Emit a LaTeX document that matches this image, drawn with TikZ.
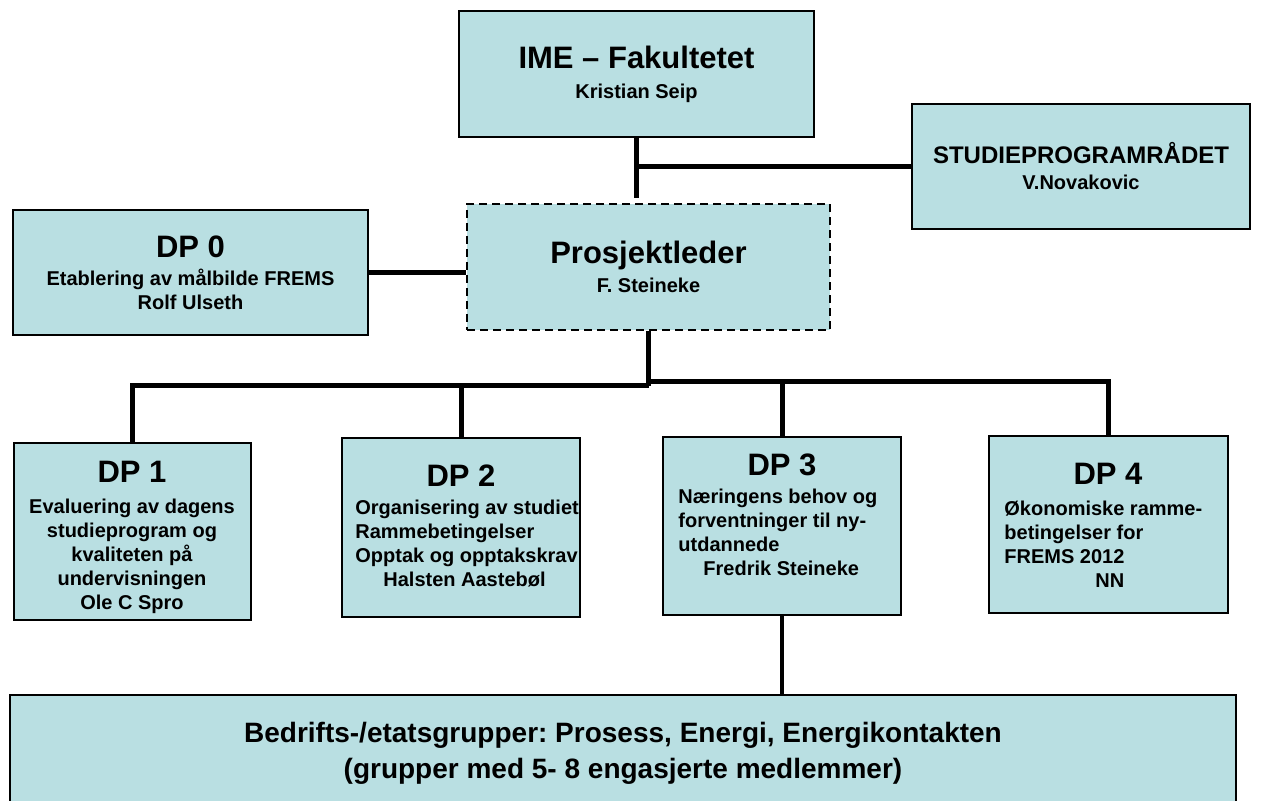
\documentclass[tikz,border=0pt]{standalone}
\usepackage{fontspec}
\setmainfont{Liberation Sans}
\frenchspacing

\definecolor{boxblue}{RGB}{185,223,226}

\newcommand{\headfont}{\fontsize{15.5}{18}\selectfont}

\tikzset{
	unit/.style = {draw, line width = 1pt, fill = boxblue, inner sep = 0pt, align = center,
		font = \fontsize{10}{12}\selectfont\bfseries},
	leader/.style = {unit, dash pattern = on 4pt off 2.5pt},
	head/.style = {inner sep = 0pt, font = \headfont\bfseries},
	body/.style = {inner sep = 0pt, font = \fontsize{10}{12}\selectfont\bfseries},
	link/.style = {line width = 2.5pt}
}

\begin{document}
\begin{tikzpicture}[x = 0.5pt, y = -0.5pt]

	% Frame

	\useasboundingbox (0, 0) rectangle (1267, 801);

	% Top level

	\node [unit, minimum width = 177.5pt, minimum height = 63pt] (ime) at (636.5, 74)
		{{\headfont IME – Fakultetet}\\[3pt] Kristian Seip};
	\node [unit, minimum width = 169pt, minimum height = 62.5pt] (studie) at (1081, 166.5)
		{{\fontsize{12}{14}\selectfont STUDIEPROGRAMRÅDET}\\[1pt] V.Novakovic};
	\node [leader, minimum width = 181.5pt, minimum height = 63pt] (lead) at (648.5, 267)
		{{\headfont Prosjektleder}\\[2.5pt] F. Steineke};
	\node [unit, minimum width = 177.5pt, minimum height = 62.5pt] (dp0) at (190.5, 272.5)
		{{\headfont DP 0}\\[2pt] Etablering av målbilde FREMS\\ Rolf Ulseth};

	% Delprosjekter

	\node [unit, minimum width = 118.5pt, minimum height = 88.5pt] (dp1) at (132.5, 531.5) {};
	\node [unit, minimum width = 119pt, minimum height = 89.5pt] (dp2) at (461, 527.5) {};
	\node [unit, minimum width = 119pt, minimum height = 89pt] (dp3) at (782, 526) {};
	\node [unit, minimum width = 119.5pt, minimum height = 88.5pt] (dp4) at (1108.5, 524.5) {};

	\node [head] (dp1t) at (132, 472) {DP 1};
	\node [body, align = center] (dp1b) at (132, 556)
		{Evaluering av dagens\\ studieprogram og\\ kvaliteten på\\ undervisningen\\ Ole C Spro};

	\node [head] (dp2t) at (461, 476) {DP 2};
	\node [body, align = left, anchor = west] (dp2b) at (355, 544)
		{Organisering av studiet\\ Rammebetingelser\\ Opptak og opptakskrav\\ \hspace*{14pt}Halsten Aastebøl};

	\node [head] (dp3t) at (782, 465) {DP 3};
	\node [body, align = left, anchor = west] (dp3b) at (678, 532)
		{Næringens behov og\\ forventninger til ny-\\ utdannede\\ \hspace*{12.5pt}Fredrik Steineke};

	\node [head] (dp4t) at (1108, 474) {DP 4};
	\node [body, align = left, anchor = west] (dp4b) at (1004, 544)
		{Økonomiske ramme-\\ betingelser for\\ FREMS 2012\\ \hspace*{45.5pt}NN};

	% Bedrifter

	\node [unit, minimum width = 613pt, minimum height = 58pt,
		font = \fontsize{14}{18}\selectfont\bfseries] (firms) at (623, 753)
		{Bedrifts-/etatsgrupper: Prosess, Energi, Energikontakten\\ (grupper med 5- 8 engasjerte medlemmer)};

	% Lines

	\draw [link] (ime.south) -- ++(0, 60);
	\draw [link] (ime.south |- studie.west) -- (studie.west);
	\draw [link] (dp0.east) -- (dp0.east -| lead.west);

	\draw [link] (lead.south) -- ++(0, 55) coordinate (hub);
	\draw [link] (dp1.north) |- (hub);
	\draw [link] (dp2.north) -- (dp2.north |- hub);
	\coordinate (hubr) at ([yshift = 2pt] hub);
	\draw [link] (hubr) -| (dp4.north);
	\draw [link] (dp3.north) -- (dp3.north |- hubr);

	\draw [line width = 2pt] (dp3.south) -- (firms.north -| dp3.south);

\end{tikzpicture}
\end{document}
